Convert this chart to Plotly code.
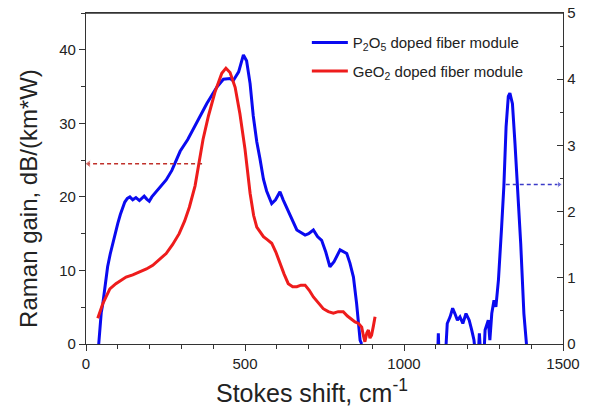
import plotly.graph_objects as go

# P2O5 doped fiber module, low-shift part (left axis)
p2o5_x = [40, 44, 48, 53, 58, 63, 68, 76, 84, 92, 100, 108, 115, 122, 130, 138, 147, 157, 168, 176,
          183, 191, 199, 207, 215, 230, 252, 270, 296, 320, 348, 380, 411, 432, 453, 463, 480, 495,
          505, 516, 526, 537, 547, 558, 568, 584, 596, 610, 620, 631, 647, 663, 689, 700, 715, 728,
          741, 754, 767, 780, 799, 810, 820, 830, 841, 851, 857, 862, 867]
p2o5_y = [0, 2.5, 4.3, 5.5, 7.3, 9.0, 10.5, 12.2, 13.7, 15.2, 16.4, 17.6, 18.6, 19.3, 19.8, 20.0,
          19.6, 19.9, 19.5, 19.9, 20.1, 19.7, 19.4, 20.0, 20.4, 21.3, 22.3, 23.6, 26.2, 27.8, 30.0,
          32.7, 34.9, 36.0, 36.1, 35.8, 37.0, 39.3, 38.5, 35.4, 31.0, 27.5, 25.2, 22.4, 20.8, 19.1,
          19.6, 20.7, 19.6, 18.6, 17.0, 15.5, 14.8, 15.0, 15.5, 14.6, 14.1, 12.5, 10.5, 11.2, 12.8,
          12.5, 12.3, 11.0, 9.1, 5.5, 3.0, 0.5, 0]

# P2O5 doped fiber module, high-shift part (right axis)
p2o5_hi_x = [1102, 1105, 1108, 1111, 1129, 1136, 1145, 1153, 1160, 1168, 1176, 1185, 1195, 1205,
             1213, 1220, 1228, 1232, 1237, 1243, 1250, 1255, 1265, 1270, 1276, 1283, 1289, 1297,
             1307, 1314, 1321, 1328, 1333, 1341, 1349, 1360, 1367, 1377, 1386]
p2o5_hi_y = [-0.3, -0.3, 0.16, -0.3, -0.3, 0.31, 0.41, 0.54, 0.46, 0.36, 0.41, 0.31, 0.46, 0.36,
             0.21, 0.06, -0.3, -0.3, 0.16, -0.3, -0.3, 0.21, 0.36, 0.06, 0.46, 0.66, 0.56, 0.97,
             1.77, 2.38, 3.28, 3.74, 3.79, 3.63, 3.03, 2.13, 1.52, 0.46, -0.05]

# GeO2 doped fiber module (left axis)
geo2_x = [37, 45, 53, 63, 75, 94, 110, 126, 147, 168, 190, 210, 230, 252, 272, 293, 310, 325, 343,
          355, 368, 385, 406, 427, 440, 453, 469, 484, 500, 516, 527, 537, 548, 558, 570, 584, 597,
          610, 623, 636, 650, 663, 676, 689, 702, 715, 730, 746, 762, 778, 793, 809, 822, 835, 846,
          857, 867, 872, 877, 883, 888, 893, 898, 904, 909]
geo2_y = [3.5, 4.5, 5.5, 6.4, 7.5, 8.2, 8.7, 9.1, 9.4, 9.8, 10.2, 10.7, 11.4, 12.3, 13.5, 15.0,
          16.7, 18.6, 21.5, 24.5, 27.8, 31.0, 34.3, 36.8, 37.5, 36.9, 34.9, 31.3, 26.5, 20.5, 17.5,
          15.9, 15.2, 14.6, 14.2, 13.7, 12.5, 10.9, 9.5, 8.2, 7.8, 7.8, 8.0, 8.0, 7.3, 6.4, 5.6, 4.8,
          4.4, 4.2, 4.4, 4.4, 3.8, 3.3, 3.0, 2.8, 2.3, 1.2, 0.3, 1.5, 1.9, 0.8, 1.2, 2.5, 3.7]

# axis pointer arrows
left_arrow_x = [365, 8]
left_arrow_y = [24.5, 24.5]
right_arrow_x = [1320, 1488]
right_arrow_y = [2.41, 2.41]

x_ticks = [0, 500, 1000, 1500]
y_ticks = [0, 10, 20, 30, 40]
y2_ticks = [0, 1, 2, 3, 4, 5]

BLUE = "#0a0af0"
RED = "#ee1c1c"
AX = "#333333"
FONT = "Liberation Sans, Arial, sans-serif"

fig = go.Figure()

fig.add_trace(go.Scatter(x=p2o5_x, y=p2o5_y, mode="lines", line=dict(color=BLUE, width=3),
                         name="P<sub>2</sub>O<sub>5</sub> doped fiber module",
                         legendgroup="a", legendrank=1))
fig.add_trace(go.Scatter(x=geo2_x, y=geo2_y, mode="lines", line=dict(color=RED, width=3),
                         name="GeO<sub>2</sub> doped fiber module",
                         legendgroup="b", legendrank=2))
fig.add_trace(go.Scatter(x=p2o5_hi_x, y=p2o5_hi_y, mode="lines", line=dict(color=BLUE, width=3),
                         yaxis="y2", showlegend=False))

fig.add_trace(go.Scatter(x=left_arrow_x, y=left_arrow_y, mode="lines+markers",
                         line=dict(color="#c0302a", width=1.6, dash="4px,3px"),
                         marker=dict(symbol=["circle", "triangle-left"], size=[0, 7], color="#c0302a"),
                         showlegend=False))
fig.add_trace(go.Scatter(x=right_arrow_x, y=right_arrow_y, mode="lines+markers",
                         line=dict(color="#3a3ac8", width=1.4, dash="4px,3px"),
                         marker=dict(symbol=["circle", "triangle-right"], size=[0, 6], color="#3a3ac8"),
                         yaxis="y2", showlegend=False))

axis_common = dict(showgrid=False, zeroline=False, showline=True, linecolor=AX, linewidth=1.3,
                   automargin=False, ticklabeloverflow="allow",
                   tickfont=dict(size=15, color="#222222", family=FONT), tickcolor=AX, tickwidth=1.2)

fig.update_layout(
    width=596, height=408,
    margin=dict(l=78, r=41, t=5, b=72, autoexpand=False),
    paper_bgcolor="white", plot_bgcolor="white",
    font=dict(family=FONT, color="#222222"),
    xaxis=dict(range=[0, 1500], tickvals=x_ticks, ticks="outside", ticklen=6, mirror=True,
               minor=dict(dtick=100, ticks="outside", ticklen=4, tickcolor=AX, tickwidth=1.2),
               **axis_common),
    yaxis=dict(range=[0, 45], tickvals=y_ticks, ticks="outside", ticklen=6,
               minor=dict(dtick=5, ticks="outside", ticklen=4, tickcolor=AX, tickwidth=1.2),
               **axis_common),
    yaxis2=dict(range=[0, 5], tickvals=y2_ticks, ticks="inside", ticklen=6, overlaying="y",
                side="right",
                minor=dict(dtick=0.5, ticks="inside", ticklen=3, tickcolor=AX, tickwidth=1.2),
                **axis_common),
    legend=dict(x=0.463, y=0.96, xanchor="left", yanchor="top", bgcolor="rgba(0,0,0,0)",
                font=dict(size=15, family=FONT, color="#222222"), traceorder="grouped",
                tracegroupgap=6, itemwidth=36),
    showlegend=True,
)

# top frame line
fig.add_shape(type="line", xref="paper", yref="paper", x0=0, x1=1, y0=1, y1=1,
              line=dict(color=AX, width=1.3), layer="above")

fig.add_annotation(text="Raman gain, dB/(km*W)", xref="paper", yref="paper",
                   x=-0.153, y=0.44, textangle=-90, showarrow=False,
                   font=dict(size=24, family=FONT, color="#222222"))
fig.add_annotation(text="Stokes shift, cm<sup>-1</sup>", xref="paper", yref="paper",
                   x=0.474, y=-0.195, showarrow=False,
                   font=dict(size=25, family=FONT, color="#222222"))

fig.write_html("out.html")
